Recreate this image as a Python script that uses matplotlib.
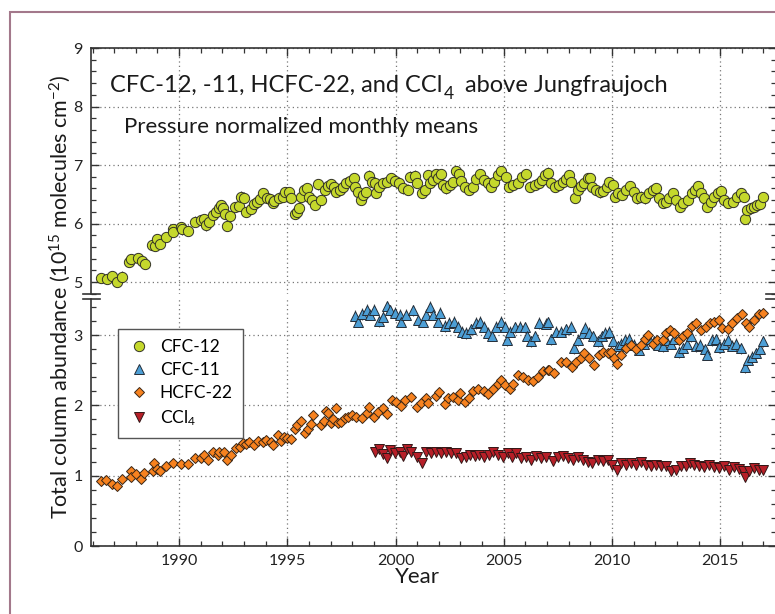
"""Halocarbon total columns above Jungfraujoch, broken y-axis."""
import matplotlib

matplotlib.use("Agg")
import matplotlib.pyplot as plt  # noqa: E402
from matplotlib.lines import Line2D  # noqa: E402
from matplotlib.patches import Rectangle  # noqa: E402
from matplotlib.ticker import MultipleLocator  # noqa: E402

FONT = "Lato"
plt.rcParams["font.family"] = [FONT, "DejaVu Sans"]
plt.rcParams["mathtext.fontset"] = "custom"
plt.rcParams["mathtext.rm"] = FONT
plt.rcParams["mathtext.it"] = FONT + ":italic"
plt.rcParams["mathtext.bf"] = FONT + ":bold"

# ---- data, 10^15 molecules/cm2 ------------------------------------------
cfc12_year = [
    1986.40, 1986.67, 1986.90, 1987.15, 1987.37, 1987.68, 1987.80, 1988.10,
    1988.28, 1988.43, 1988.75, 1988.90, 1989.00, 1989.12, 1989.40, 1989.70,
    1989.73, 1990.10, 1990.15, 1990.43, 1990.74, 1991.00, 1991.17, 1991.25,
    1991.40, 1991.55, 1991.70, 1991.86, 1991.94, 1992.05, 1992.10, 1992.20,
    1992.34, 1992.58, 1992.75, 1992.86, 1993.00, 1993.10, 1993.30, 1993.47,
    1993.60, 1993.73, 1993.90, 1994.05, 1994.20, 1994.32, 1994.40, 1994.60,
    1994.80, 1994.90, 1995.10, 1995.16, 1995.35, 1995.43, 1995.55, 1995.65,
    1995.78, 1995.90, 1996.00, 1996.16, 1996.27, 1996.40, 1996.57, 1996.73,
    1996.90, 1997.04, 1997.15, 1997.27, 1997.45, 1997.58, 1997.73, 1997.90,
    1998.08, 1998.12, 1998.27, 1998.40, 1998.50, 1998.65, 1998.78, 1998.90,
    1999.04, 1999.10, 1999.24, 1999.42, 1999.60, 1999.80, 1999.99, 2000.18,
    2000.33, 2000.57, 2000.65, 2000.88, 2001.00, 2001.23, 2001.34, 2001.50,
    2001.60, 2001.73, 2001.85, 2001.96, 2002.12, 2002.20, 2002.35, 2002.50,
    2002.66, 2002.80, 2002.92, 2003.04, 2003.20, 2003.40, 2003.57, 2003.72,
    2003.91, 2004.10, 2004.26, 2004.42, 2004.57, 2004.73, 2004.88, 2005.10,
    2005.23, 2005.41, 2005.65, 2005.85, 2006.03, 2006.20, 2006.43, 2006.62,
    2006.78, 2006.90, 2007.03, 2007.19, 2007.39, 2007.57, 2007.73, 2007.88,
    2008.03, 2008.10, 2008.29, 2008.41, 2008.57, 2008.72, 2008.88, 2009.00,
    2009.10, 2009.26, 2009.45, 2009.60, 2009.76, 2009.88, 2010.07, 2010.16,
    2010.26, 2010.47, 2010.65, 2010.84, 2011.03, 2011.14, 2011.34, 2011.54,
    2011.73, 2011.91, 2012.04, 2012.19, 2012.34, 2012.50, 2012.65, 2012.84,
    2012.96, 2013.14, 2013.30, 2013.50, 2013.70, 2013.85, 2013.96, 2014.10,
    2014.26, 2014.37, 2014.57, 2014.72, 2014.88, 2015.03, 2015.18, 2015.38,
    2015.60, 2015.80, 2015.95, 2016.10, 2016.16, 2016.26, 2016.42, 2016.57,
    2016.72, 2016.83, 2016.96,
]
cfc12_val = [
    5.07, 5.05, 5.10, 5.00, 5.09, 5.35, 5.39, 5.41,
    5.36, 5.31, 5.64, 5.62, 5.73, 5.65, 5.77, 5.91,
    5.86, 5.94, 5.90, 5.88, 6.03, 6.06, 6.08, 5.97,
    6.03, 6.14, 6.19, 6.26, 6.32, 6.26, 6.16, 5.96,
    6.13, 6.28, 6.30, 6.46, 6.44, 6.20, 6.25, 6.33,
    6.36, 6.42, 6.52, 6.44, 6.42, 6.35, 6.39, 6.44,
    6.46, 6.54, 6.54, 6.44, 6.16, 6.20, 6.27, 6.46,
    6.57, 6.61, 6.46, 6.40, 6.32, 6.67, 6.40, 6.58,
    6.64, 6.67, 6.63, 6.54, 6.57, 6.63, 6.70, 6.73,
    6.77, 6.63, 6.54, 6.41, 6.49, 6.54, 6.82, 6.71,
    6.70, 6.52, 6.63, 6.69, 6.71, 6.77, 6.73, 6.70,
    6.60, 6.58, 6.80, 6.82, 6.69, 6.52, 6.58, 6.83,
    6.69, 6.74, 6.84, 6.77, 6.85, 6.66, 6.60, 6.66,
    6.71, 6.89, 6.85, 6.73, 6.63, 6.58, 6.63, 6.76,
    6.84, 6.74, 6.69, 6.62, 6.71, 6.83, 6.89, 6.79,
    6.62, 6.66, 6.70, 6.80, 6.84, 6.63, 6.66, 6.69,
    6.74, 6.83, 6.87, 6.69, 6.63, 6.66, 6.71, 6.76,
    6.83, 6.71, 6.44, 6.58, 6.64, 6.70, 6.77, 6.77,
    6.63, 6.57, 6.53, 6.56, 6.63, 6.71, 6.66, 6.46,
    6.52, 6.49, 6.57, 6.64, 6.54, 6.43, 6.46, 6.43,
    6.52, 6.57, 6.60, 6.43, 6.35, 6.37, 6.43, 6.52,
    6.40, 6.28, 6.35, 6.41, 6.52, 6.58, 6.64, 6.52,
    6.43, 6.28, 6.37, 6.46, 6.52, 6.56, 6.40, 6.35,
    6.37, 6.46, 6.52, 6.46, 6.08, 6.23, 6.26, 6.29,
    6.32, 6.33, 6.45,
]

cfc11_year = [
    1998.12, 1998.27, 1998.47, 1998.66, 1998.80, 1999.00, 1999.24, 1999.42,
    1999.60, 1999.73, 1999.96, 2000.19, 2000.27, 2000.50, 2000.80, 2001.04,
    2001.27, 2001.43, 2001.60, 2001.73, 2001.96, 2002.06, 2002.27, 2002.47,
    2002.68, 2002.88, 2003.08, 2003.26, 2003.50, 2003.73, 2003.91, 2004.07,
    2004.26, 2004.47, 2004.65, 2004.88, 2005.04, 2005.14, 2005.30, 2005.50,
    2005.73, 2005.96, 2006.07, 2006.27, 2006.43, 2006.65, 2006.96, 2007.03,
    2007.19, 2007.42, 2007.65, 2007.88, 2008.10, 2008.26, 2008.41, 2008.65,
    2008.77, 2008.96, 2009.14, 2009.34, 2009.54, 2009.70, 2009.88, 2010.03,
    2010.26, 2010.42, 2010.62, 2010.80, 2011.03, 2011.26, 2011.49, 2011.73,
    2011.96, 2012.15, 2012.34, 2012.52, 2012.72, 2012.88, 2013.08, 2013.26,
    2013.45, 2013.65, 2013.88, 2014.06, 2014.29, 2014.41, 2014.62, 2014.79,
    2014.95, 2015.18, 2015.38, 2015.56, 2015.72, 2015.95, 2016.14, 2016.30,
    2016.49, 2016.67, 2016.83, 2016.96,
]
cfc11_val = [
    3.27, 3.19, 3.30, 3.36, 3.29, 3.36, 3.20, 3.26,
    3.41, 3.35, 3.32, 3.29, 3.19, 3.29, 3.35, 3.21,
    3.19, 3.29, 3.40, 3.29, 3.19, 3.32, 3.13, 3.17,
    3.19, 3.12, 3.05, 3.03, 3.08, 3.17, 3.19, 3.12,
    3.03, 2.99, 3.12, 3.19, 3.12, 2.93, 3.05, 3.11,
    3.12, 3.11, 2.99, 2.91, 2.98, 3.17, 3.16, 3.18,
    2.94, 3.05, 3.05, 3.08, 3.12, 2.81, 2.93, 3.03,
    3.10, 3.03, 2.98, 2.91, 2.98, 3.03, 3.05, 2.91,
    2.84, 2.88, 2.93, 2.95, 2.86, 2.79, 2.88, 2.95,
    2.91, 2.86, 2.84, 2.93, 2.88, 2.94, 2.76, 2.81,
    2.88, 2.98, 2.84, 2.86, 2.80, 2.72, 2.93, 2.94,
    2.83, 2.88, 2.93, 2.85, 2.88, 2.81, 2.54, 2.65,
    2.69, 2.74, 2.80, 2.91,
]

hcfc22_year = [
    1986.40, 1986.63, 1986.90, 1987.14, 1987.37, 1987.76, 1987.80, 1988.00,
    1988.25, 1988.40, 1988.78, 1988.86, 1988.99, 1989.14, 1989.40, 1989.70,
    1990.10, 1990.43, 1990.74, 1991.00, 1991.17, 1991.32, 1991.55, 1991.78,
    1991.86, 1992.06, 1992.21, 1992.40, 1992.63, 1992.83, 1992.94, 1993.10,
    1993.24, 1993.45, 1993.63, 1993.86, 1994.00, 1994.24, 1994.36, 1994.55,
    1994.70, 1994.86, 1994.98, 1995.17, 1995.35, 1995.47, 1995.63, 1995.81,
    1995.94, 1996.09, 1996.17, 1996.55, 1996.70, 1996.78, 1996.89, 1997.00,
    1997.09, 1997.24, 1997.32, 1997.47, 1997.66, 1997.80, 1998.00, 1998.16,
    1998.43, 1998.67, 1998.78, 1999.00, 1999.20, 1999.42, 1999.60, 1999.85,
    2000.03, 2000.26, 2000.46, 2000.73, 2000.99, 2001.20, 2001.43, 2001.50,
    2001.85, 2002.00, 2002.27, 2002.42, 2002.66, 2002.89, 2003.00, 2003.20,
    2003.40, 2003.60, 2003.80, 2004.07, 2004.26, 2004.50, 2004.73, 2004.88,
    2005.04, 2005.27, 2005.45, 2005.65, 2005.88, 2006.10, 2006.34, 2006.57,
    2006.80, 2007.03, 2007.11, 2007.34, 2007.65, 2007.88, 2008.16, 2008.34,
    2008.57, 2008.73, 2008.96, 2009.19, 2009.39, 2009.60, 2009.80, 2009.96,
    2010.11, 2010.22, 2010.42, 2010.65, 2010.88, 2011.11, 2011.34, 2011.54,
    2011.65, 2011.88, 2012.10, 2012.34, 2012.52, 2012.68, 2012.88, 2013.08,
    2013.26, 2013.49, 2013.72, 2013.88, 2014.10, 2014.34, 2014.53, 2014.72,
    2014.95, 2015.10, 2015.34, 2015.54, 2015.80, 2016.03, 2016.19, 2016.34,
    2016.57, 2016.80, 2016.98,
]
hcfc22_val = [
    0.92, 0.94, 0.88, 0.85, 0.95, 1.07, 0.98, 1.02,
    0.95, 1.04, 1.07, 1.18, 1.10, 1.07, 1.14, 1.18,
    1.17, 1.17, 1.25, 1.25, 1.29, 1.23, 1.34, 1.29,
    1.34, 1.33, 1.23, 1.29, 1.39, 1.41, 1.47, 1.45,
    1.48, 1.44, 1.50, 1.48, 1.51, 1.48, 1.44, 1.58,
    1.50, 1.55, 1.53, 1.52, 1.66, 1.72, 1.78, 1.61,
    1.66, 1.74, 1.86, 1.72, 1.78, 1.92, 1.89, 1.75,
    1.80, 1.96, 1.75, 1.77, 1.82, 1.83, 1.86, 1.84,
    1.82, 1.89, 1.97, 1.83, 1.91, 1.96, 1.88, 2.07,
    2.05, 1.99, 2.08, 2.12, 1.97, 2.04, 2.10, 2.03,
    2.13, 2.19, 2.02, 2.10, 2.12, 2.08, 2.17, 2.05,
    2.10, 2.21, 2.23, 2.21, 2.16, 2.23, 2.31, 2.36,
    2.29, 2.23, 2.30, 2.43, 2.41, 2.36, 2.34, 2.40,
    2.49, 2.51, 2.50, 2.46, 2.61, 2.62, 2.54, 2.62,
    2.67, 2.75, 2.67, 2.57, 2.72, 2.76, 2.75, 2.76,
    2.67, 2.59, 2.72, 2.81, 2.86, 2.80, 2.86, 2.94,
    3.00, 2.88, 2.93, 2.93, 3.03, 3.07, 3.03, 2.93,
    2.98, 3.03, 3.13, 3.17, 3.07, 3.12, 3.17, 3.19,
    3.21, 3.10, 3.08, 3.17, 3.24, 3.30, 3.17, 3.12,
    3.21, 3.30, 3.32,
]

ccl4_year = [
    1999.04, 1999.24, 1999.42, 1999.60, 1999.73, 1999.96, 2000.19, 2000.35,
    2000.53, 2000.73, 2000.99, 2001.24, 2001.43, 2001.66, 2001.89, 2002.12,
    2002.35, 2002.58, 2002.81, 2003.04, 2003.24, 2003.42, 2003.65, 2003.88,
    2004.11, 2004.34, 2004.52, 2004.72, 2004.96, 2005.19, 2005.39, 2005.57,
    2005.80, 2006.03, 2006.27, 2006.50, 2006.73, 2006.96, 2007.27, 2007.49,
    2007.73, 2007.96, 2008.19, 2008.42, 2008.65, 2008.88, 2009.10, 2009.34,
    2009.57, 2009.80, 2010.00, 2010.22, 2010.42, 2010.65, 2010.88, 2011.11,
    2011.34, 2011.57, 2011.80, 2012.03, 2012.26, 2012.49, 2012.72, 2012.95,
    2013.18, 2013.41, 2013.60, 2013.80, 2014.03, 2014.26, 2014.49, 2014.72,
    2014.95, 2015.18, 2015.41, 2015.64, 2015.87, 2016.05, 2016.14, 2016.34,
    2016.57, 2016.80, 2016.98,
]
ccl4_val = [
    1.33, 1.38, 1.31, 1.25, 1.37, 1.32, 1.34, 1.28,
    1.38, 1.33, 1.26, 1.18, 1.34, 1.32, 1.34, 1.32,
    1.33, 1.32, 1.32, 1.25, 1.27, 1.29, 1.28, 1.29,
    1.27, 1.29, 1.34, 1.29, 1.27, 1.32, 1.27, 1.32,
    1.25, 1.27, 1.22, 1.28, 1.25, 1.27, 1.21, 1.27,
    1.28, 1.25, 1.22, 1.27, 1.23, 1.20, 1.18, 1.22,
    1.21, 1.23, 1.15, 1.08, 1.18, 1.15, 1.18, 1.15,
    1.20, 1.15, 1.14, 1.15, 1.14, 1.14, 1.06, 1.08,
    1.14, 1.14, 1.18, 1.15, 1.14, 1.13, 1.15, 1.12,
    1.11, 1.14, 1.08, 1.13, 1.09, 1.06, 0.98, 1.06,
    1.11, 1.08, 1.08,
]

# typical 1-sigma of the monthly means
cfc12_err = 0.09
cfc11_err = 0.08
hcfc22_err = 0.06
ccl4_err = 0.045

# ---- layout (pixels of the 775 x 614 canvas) -----------------------------
W, H = 775, 614
C12 = dict(marker="o", ms=7.4, mfc="#c5d82c", mec="#333326", mew=0.7)
C11 = dict(marker="^", ms=7.6, mfc="#4d9fd6", mec="#232d38", mew=0.7)
H22 = dict(marker="D", ms=5.4, mfc="#f7821f", mec="#3a2616", mew=0.7)
CCL = dict(marker="v", ms=7.8, mfc="#b71f28", mec="#321616", mew=0.7)
EBAR = dict(fmt="none", ecolor="#555555", elinewidth=0.8, capsize=0, zorder=2)
INK = "#1a1a1a"


def fx(px):
    return px / W


def fy(py):
    return 1 - py / H


def style_axis(ax):
    ax.set_xlim(1985.93, 2017.58)
    ax.xaxis.set_major_locator(MultipleLocator(5))
    ax.xaxis.set_minor_locator(MultipleLocator(1))
    ax.yaxis.set_major_locator(MultipleLocator(1))
    ax.yaxis.set_minor_locator(MultipleLocator(0.2))
    ax.tick_params(which="both", direction="in", left=True, right=True,
                   colors="#333333", labelcolor="#222222", labelsize=11.5)
    ax.tick_params(which="major", length=6, width=1.0, pad=6)
    ax.tick_params(which="minor", length=3.5, width=0.9)
    ax.grid(which="major", ls=(0, (1, 2.5)), color="#777777", lw=0.9)
    for s in ax.spines.values():
        s.set_color("#333333")
        s.set_linewidth(1.2)
    ax.set_axisbelow(True)


def main():
    fig = plt.figure(figsize=(W / 100, H / 100), dpi=100)

    L, R = 91, 776
    ax_top = fig.add_axes([fx(L), fy(294), fx(R) - fx(L), fy(48) - fy(294)])
    ax_bot = fig.add_axes([fx(L), fy(546), fx(R) - fx(L), fy(299) - fy(546)])

    style_axis(ax_top)
    style_axis(ax_bot)
    ax_top.set_ylim(4.795, 9)
    ax_bot.set_ylim(0, 3.513)
    ax_top.spines["bottom"].set_visible(False)
    ax_bot.spines["top"].set_visible(False)
    ax_top.tick_params(which="both", top=True, bottom=False, labelbottom=False)
    ax_bot.tick_params(which="both", top=False, bottom=True)

    # upper panel: CFC-12
    ax_top.errorbar(cfc12_year, cfc12_val, yerr=cfc12_err, **EBAR)
    h12, = ax_top.plot(cfc12_year, cfc12_val, ls="none", zorder=3, **C12)

    # lower panel
    ax_bot.errorbar(cfc11_year, cfc11_val, yerr=cfc11_err, **EBAR)
    h11, = ax_bot.plot(cfc11_year, cfc11_val, ls="none", zorder=3, **C11)
    ax_bot.errorbar(hcfc22_year, hcfc22_val, yerr=hcfc22_err, **EBAR)
    h22, = ax_bot.plot(hcfc22_year, hcfc22_val, ls="none", zorder=3, **H22)
    ax_bot.errorbar(ccl4_year, ccl4_val, yerr=ccl4_err, **EBAR)
    hcc, = ax_bot.plot(ccl4_year, ccl4_val, ls="none", zorder=3, **CCL)

    # title in three pieces so the subscript can sit low like the original
    t1 = ax_top.text(0.028, 0.821, "CFC-12, -11, HCFC-22, and CCl",
                     transform=ax_top.transAxes, fontsize=17, color=INK,
                     va="baseline", ha="left")
    t2 = ax_top.annotate("4", xy=(1, 0), xycoords=t1, xytext=(0.6, -1.8),
                         textcoords="offset points", fontsize=12.5, color=INK,
                         va="baseline", ha="left")
    ax_top.annotate("above Jungfraujoch", xy=(1, 0), xycoords=(t2, t1),
                    xytext=(8.5, 0), textcoords="offset points", fontsize=17,
                    color=INK, va="bottom", ha="left")
    ax_top.text(0.048, 0.654, "Pressure normalized monthly means",
                transform=ax_top.transAxes, fontsize=16, color=INK,
                va="baseline", ha="left")

    leg = ax_bot.legend([h12, h11, h22, hcc], ["CFC-12", "CFC-11", "HCFC-22", "CCl$_4$"],
                        loc="upper left", bbox_to_anchor=(0.0395, 0.8785),
                        borderaxespad=0, fontsize=12.5, frameon=True, fancybox=False,
                        framealpha=1, edgecolor="#555555", handlelength=1.2,
                        handletextpad=0.6, labelspacing=0.4, borderpad=0.6)
    leg.get_frame().set_linewidth(1.0)
    leg.set_zorder(10)

    ax_bot.set_xlabel("Year", fontsize=16, color=INK, labelpad=-1, x=0.477)
    fig.text(fx(60), fy(297), "Total column abundance (10$^{15}$ molecules cm$^{-2}$)",
             rotation=90, ha="center", va="center", fontsize=15.5, color=INK)

    # axis-break marks
    for py in (294, 299):
        fig.add_artist(Line2D([fx(83), fx(100)], [fy(py), fy(py)],
                              transform=fig.transFigure, color="#333333", lw=1.2))
        fig.add_artist(Line2D([fx(766), fx(776)], [fy(py), fy(py)],
                              transform=fig.transFigure, color="#333333", lw=1.2))

    # outer frame
    fig.add_artist(Rectangle((fx(10), -0.05), 1.1, fy(12) + 0.05, transform=fig.transFigure,
                             fill=False, edgecolor="#a3788b", lw=1.5))

    fig.savefig("out.png", dpi=100)
    plt.close(fig)


if __name__ == "__main__":
    main()
